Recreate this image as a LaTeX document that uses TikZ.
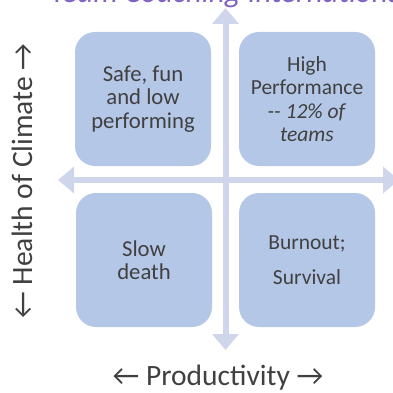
\documentclass[tikz,border=0pt]{standalone}
\usepackage{fontspec}
\setmainfont{Carlito}
\usepackage{tikz}
\usetikzlibrary{arrows.meta}

\definecolor{quadfill}{RGB}{180,199,231}
\definecolor{axisfill}{RGB}{207,213,234}
\definecolor{labelgray}{RGB}{64,64,64}
\definecolor{tcipurple}{RGB}{128,98,192}

\tikzset{
	quad/.style={fill=quadfill, rounded corners=20pt, minimum width=136pt, minimum height=134pt,
		align=center, text=labelgray, font=\fontsize{21.5}{23.5}\selectfont},
	bigquad/.style={quad, font=\fontsize{22.7}{23.4}\selectfont},
	axis/.style={draw=axisfill, line width=6pt,
		{Triangle[width=26pt,length=16pt]}-{Triangle[width=26pt,length=16pt]}},
	axislabel/.style={text=labelgray, font=\fontsize{29.5}{34}\selectfont}
}

\begin{document}
\begin{tikzpicture}[x=1pt,y=-1pt]
	% Frame
	\useasboundingbox (0,0) rectangle (393,393);
	\clip (0,0) rectangle (393,393);
	% Heading, cut off at the top
	\node[anchor=base west, inner sep=0pt, text=tcipurple, font=\fontsize{31}{36}\selectfont\itshape] (tci) at (50,2.5) {Team Coaching International};
	% Axes
	\coordinate (ytop) at (225.5,8);
	\coordinate (ybot) at (225.5,350);
	\coordinate (xleft) at (58,180);
	\coordinate (xright) at (399,180);
	\draw[axis] (ytop) -- (ybot);
	\draw[axis] (xleft) -- (xright);
	% Quadrants
	\node[bigquad] (safe) at (143,99) {Safe, fun\\and low\\performing};
	\node[quad] (high) at (307,99) {High\\Performance\\\textit{-{}- 12\% of}\\\textit{teams}};
	\node[bigquad] (slow) at (144,260) {Slow\\death};
	\node[quad] (burn) at (307,260) {Burnout;\\[11.5pt]Survival};
	% Axis labels
	\node[axislabel] (prod) at (218,378) {← Productivity →};
	\node[axislabel, rotate=90] (health) at (22,181) {← Health of Climate →};
\end{tikzpicture}
\end{document}
